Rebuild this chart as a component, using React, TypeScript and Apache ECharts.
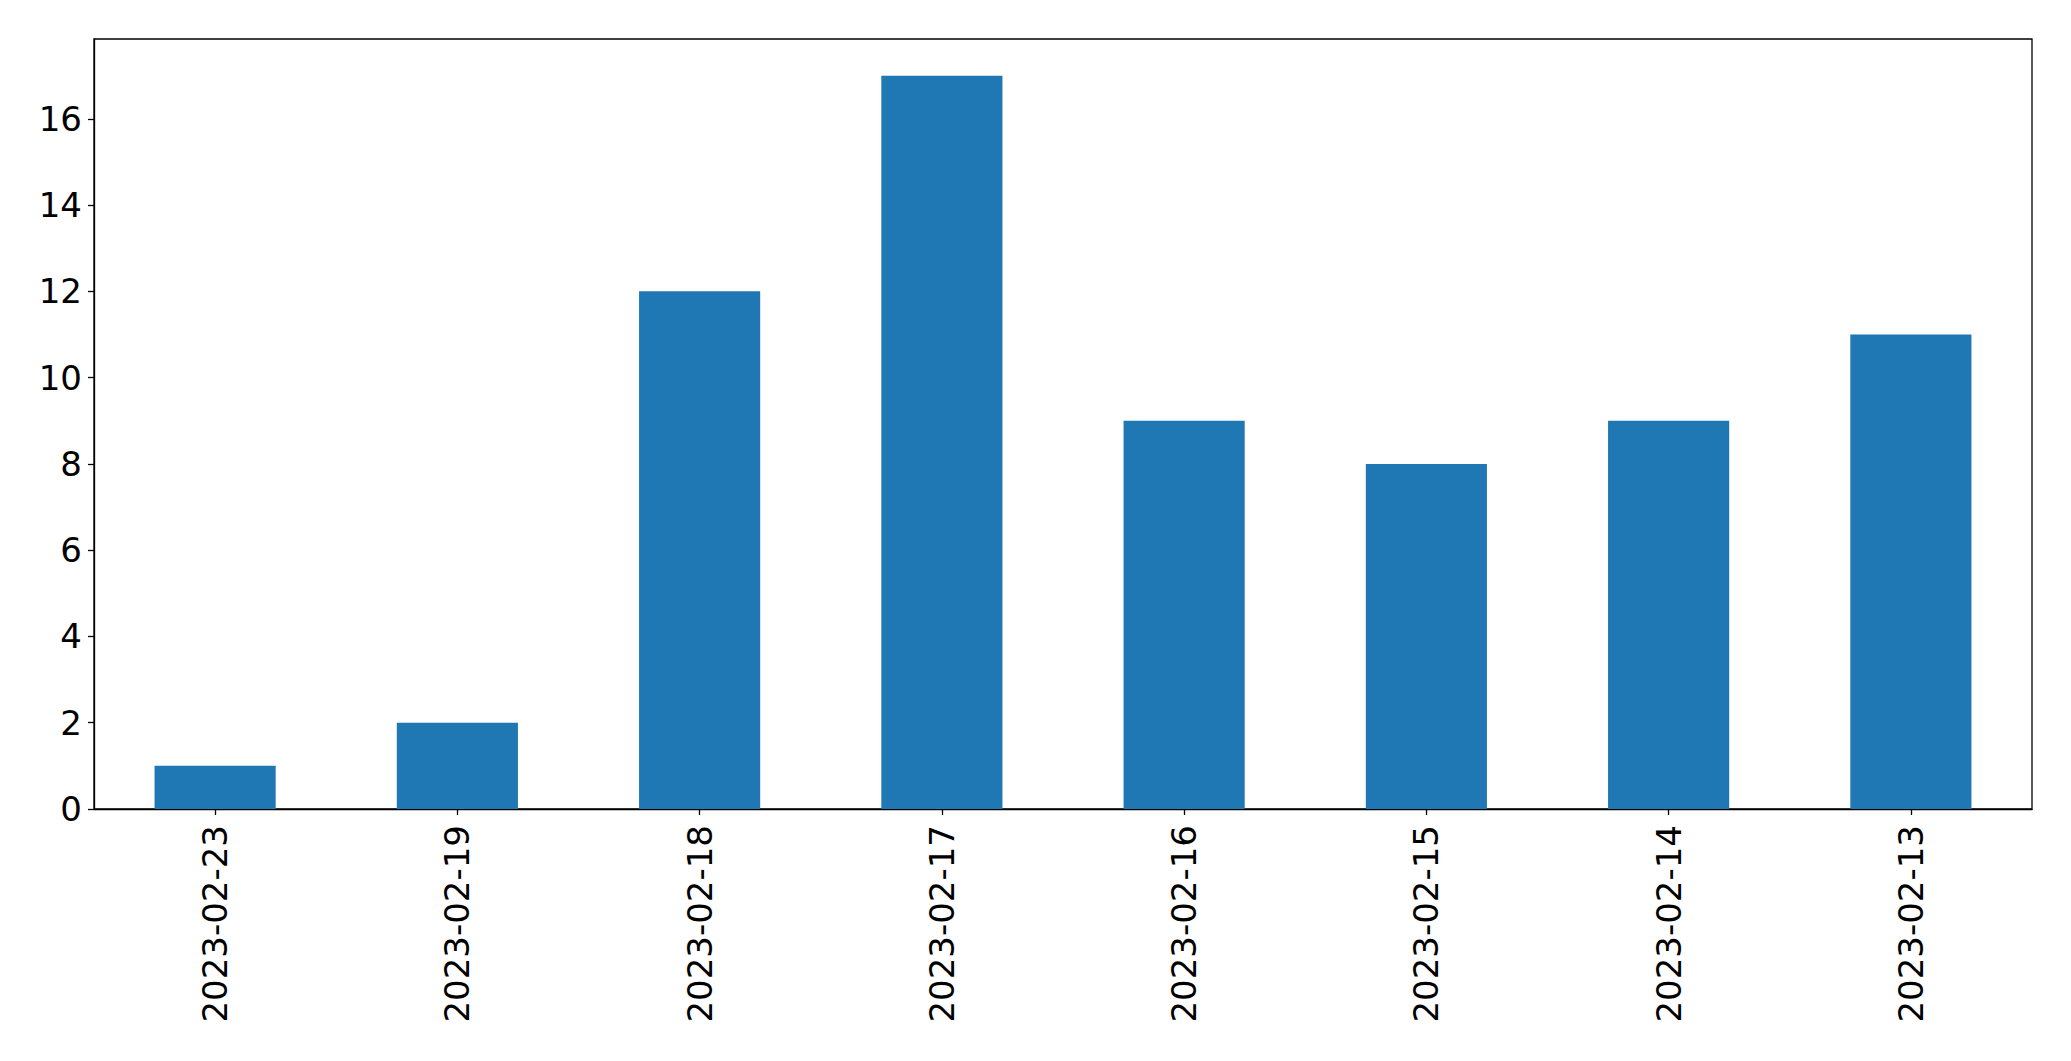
import React, { useEffect, useRef } from "react";
import * as echarts from "echarts";

const categories = [
  "2023-02-23",
  "2023-02-19",
  "2023-02-18",
  "2023-02-17",
  "2023-02-16",
  "2023-02-15",
  "2023-02-14",
  "2023-02-13",
];
const counts = [1, 2, 12, 17, 9, 8, 9, 11];
const yTicks = [0, 2, 4, 6, 8, 10, 12, 14, 16];

export default function App() {
  const ref = useRef<HTMLDivElement>(null);
  useEffect(() => {
    if (!ref.current) return;
    const chart = echarts.init(ref.current, null, { renderer: "svg" });
    const font = "DejaVu Sans";
    chart.setOption({
      animation: false,
      backgroundColor: "#ffffff",
      grid: {
        left: 94,
        top: 39,
        right: 39,
        bottom: 252,
        show: true,
        borderColor: "#000000",
        borderWidth: 1.3,
        backgroundColor: "transparent",
      },
      xAxis: {
        type: "category",
        data: categories,
        boundaryGap: true,
        axisLine: { show: true, lineStyle: { color: "#000000", width: 1.3 } },
        axisTick: {
          show: true,
          alignWithLabel: true,
          length: 6,
          lineStyle: { color: "#000000", width: 1.3 },
        },
        axisLabel: {
          rotate: 90,
          margin: 16,
          color: "#000000",
          fontFamily: font,
          fontSize: 34,
          interval: 0,
        },
        splitLine: { show: false },
      },
      yAxis: {
        type: "value",
        min: 0,
        max: 17.85,
        interval: 2,
        axisLine: { show: true, lineStyle: { color: "#000000", width: 1.3 } },
        axisTick: {
          show: true,
          length: 6,
          customValues: yTicks,
          lineStyle: { color: "#000000", width: 1.3 },
        },
        axisLabel: {
          margin: 12,
          color: "#000000",
          fontFamily: font,
          fontSize: 34,
          customValues: yTicks,
        },
        splitLine: { show: false },
      },
      series: [
        {
          type: "bar",
          data: counts,
          barWidth: "50%",
          itemStyle: { color: "#1f77b4" },
        },
      ],
    });
    return () => chart.dispose();
  }, []);
  return (
    <div
      ref={ref}
      style={{ position: "fixed", left: 0, top: 0, width: 2071, height: 1061 }}
    />
  );
}
